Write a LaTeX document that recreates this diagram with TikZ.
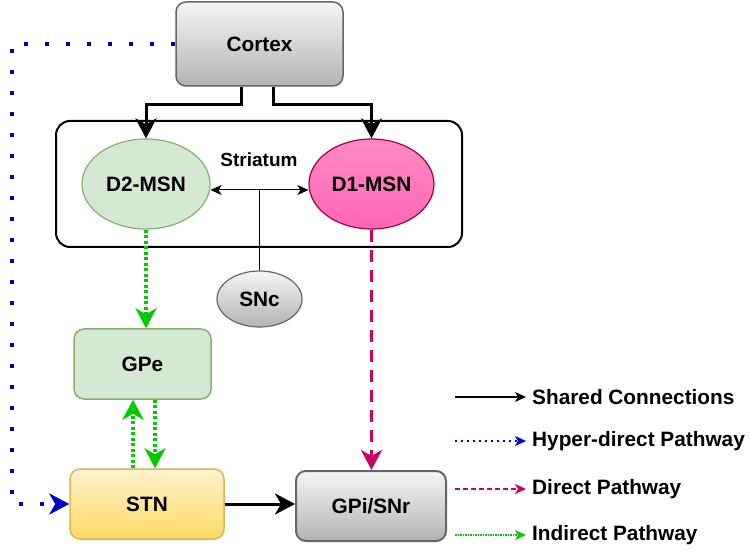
\documentclass[tikz,border=0pt]{standalone}
\usepackage{fontspec}
\setmainfont{Liberation Sans}
\usepackage{tikz}
\usetikzlibrary{calc,positioning,arrows.meta,shapes}

\definecolor{hypblue}{HTML}{0000CC}
\definecolor{indgreen}{HTML}{00CC00}
\definecolor{dirpink}{HTML}{CC0066}
\definecolor{grnfill}{HTML}{D5E8D4}
\definecolor{grnline}{HTML}{82B366}
\definecolor{gryline}{HTML}{666666}
\definecolor{grytop}{HTML}{F5F5F5}
\definecolor{grybot}{HTML}{B3B3B3}
\definecolor{ylwline}{HTML}{D6B656}
\definecolor{ylwtop}{HTML}{FFF2CC}
\definecolor{ylwbot}{HTML}{FFD966}
\definecolor{pnkline}{HTML}{A50040}
\definecolor{pnktop}{HTML}{FF8AC4}
\definecolor{pnkbot}{HTML}{FF66B3}

\begin{document}
\begin{tikzpicture}[x=1pt, y=-1pt,
  box/.style={draw, rectangle, rounded corners=10pt, line width=1.5pt, inner sep=0pt, font=\fontsize{20.8}{24}\selectfont\bfseries},
  oval/.style={draw, ellipse, line width=1.2pt, inner sep=0pt, font=\fontsize{20.8}{24}\selectfont\bfseries},
  grayfill/.style={top color=grytop, bottom color=grybot, draw=gryline},
  bigtip/.style={-{Stealth[length=20pt, width=21pt, inset=6pt]}},
  shared/.style={line width=3pt, bigtip},
  hyper/.style={line width=4pt, hypblue, dash pattern=on 4pt off 17pt, bigtip},
  direct/.style={line width=3.5pt, dirpink, dash pattern=on 12pt off 8pt, bigtip},
  indirect/.style={line width=4pt, indgreen, dash pattern=on 3pt off 2.5pt, bigtip},
  lgd/.style={anchor=west, inner sep=0pt, font=\fontsize{20.8}{24}\selectfont\bfseries},
  lgdtip/.style={-{Stealth[length=11pt, width=10pt, inset=3pt]}}]
\useasboundingbox (0,0) rectangle (750,553);

\node[box, grayfill, minimum width=167pt, minimum height=84pt] (cortex) at (259.5,44) {Cortex};
\node[draw, rounded corners=14pt, line width=2pt, minimum width=406pt, minimum height=126pt] (striatum) at (259,184) {};
\node[font=\fontsize{19}{23}\selectfont\bfseries] (strlbl) at (259,160) {Striatum};
\node[oval, fill=grnfill, draw=grnline, minimum width=128pt, minimum height=90pt] (d2) at (146,184) {D2-MSN};
\node[oval, top color=pnktop, bottom color=pnkbot, draw=pnkline, minimum width=125pt, minimum height=90pt] (d1) at (371.5,184) {D1-MSN};
\node[oval, grayfill, minimum width=85pt, minimum height=56pt] (snc) at (259.5,299) {SNc};
\node[box, fill=grnfill, draw=grnline, minimum width=137pt, minimum height=70pt] (gpe) at (142.5,364) {GPe};
\node[box, top color=ylwtop, bottom color=ylwbot, draw=ylwline, minimum width=154pt, minimum height=70pt] (stn) at (147,504) {STN};
\node[box, grayfill, line width=2pt, minimum width=150pt, minimum height=70pt] (gpi) at (371,506) {GPi/SNr};

% cortex to striatum
\coordinate (cl) at (241,105);
\coordinate (cr) at (273,105);
\draw[shared] (cortex.south -| cl) -- (cl) -| (d2.north);
\draw[shared] (cortex.south -| cr) -- (cr) -| (d1.north);

% dopamine
\coordinate (da) at (259.5,190);
\draw[line width=1pt] (snc.north) -- (da);
\draw[line width=1pt, lgdtip] (da) -- (da -| d2.east);
\draw[line width=1pt, lgdtip] (da) -- (da -| d1.west);

% pathways
\coordinate (hx) at (12,300);
\coordinate (up) at (133,430);
\coordinate (dn) at (155,430);
\draw[hyper] (cortex.west) -| (hx) |- (stn.west);
\draw[indirect] (d2.south) -- (d2.south |- gpe.north);
\draw[indirect] (stn.north -| up) -- (gpe.south -| up);
\draw[indirect] (gpe.south -| dn) -- (stn.north -| dn);
\draw[direct] (d1.south) -- (d1.south |- gpi.north);
\draw[shared] (stn.east) -- (stn.east -| gpi.west);

% legend
\node[lgd] (l1) at (532,397) {Shared Connections};
\node[lgd] (l2) at (532,441) {Hyper-direct Pathway};
\node[lgd] (l3) at (532,489) {Direct Pathway};
\node[lgd] (l4) at (532,535) {Indirect Pathway};
\coordinate (s1) at (455,397);
\coordinate (s2) at (455,441);
\coordinate (s3) at (455,489);
\coordinate (s4) at (455,535);
\draw[line width=1.2pt, lgdtip] (s1) -- ([xshift=-6pt]l1.west);
\draw[line width=1.5pt, hypblue, dash pattern=on 1.5pt off 4.5pt, lgdtip] (s2) -- ([xshift=-6pt]l2.west);
\draw[line width=1.5pt, dirpink, dash pattern=on 5pt off 3pt, lgdtip] (s3) -- ([xshift=-6pt]l3.west);
\draw[line width=1.5pt, indgreen, dash pattern=on 1.5pt off 1pt, lgdtip] (s4) -- ([xshift=-6pt]l4.west);
\end{tikzpicture}
\end{document}
